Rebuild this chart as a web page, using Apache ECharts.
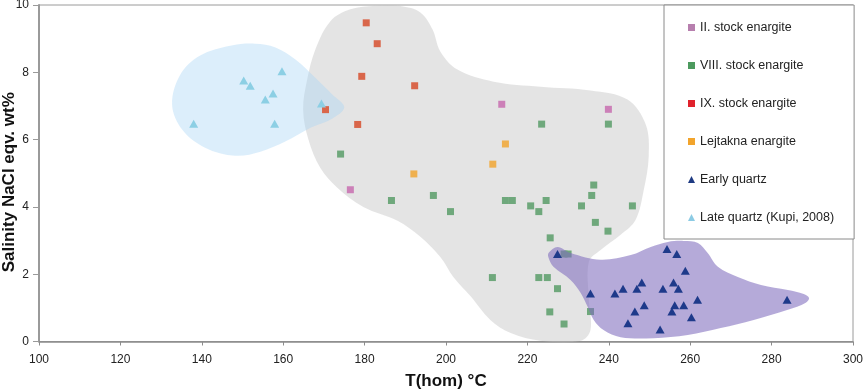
<!DOCTYPE html>
<html>
<head>
<meta charset="utf-8">
<script src="https://cdn.jsdelivr.net/npm/echarts@6/dist/echarts.min.js"></script>
<style>
html,body{margin:0;padding:0;background:#fff;}
#chart{width:865px;height:391px;}
</style>
</head>
<body>
<div id="chart"></div>
<script>
// ---- data (T(hom) °C, Salinity NaCl eqv. wt%) ----
const seriesNames = ['II. stock enargite','VIII. stock enargite','IX. stock enargite','Lejtakna enargite','Early quartz','Late quartz (Kupi, 2008)'];
const stockII = [[213.7,7.05],[239.9,6.90],[176.5,4.51]];
const stockVIII = [[174.1,5.57],[223.5,6.46],[239.9,6.46],[214.6,4.19],[216.3,4.19],[220.8,4.03],[222.8,3.86],[224.6,4.19],[236.3,4.65],[235.8,4.34],[233.3,4.03],[245.8,4.03],[236.7,3.54],[239.8,3.28],[186.6,4.19],[196.9,4.34],[201.1,3.86],[225.6,3.08],[211.4,1.90],[222.8,1.90],[224.9,1.90],[227.4,1.57],[225.5,0.88],[229.0,0.52],[235.5,0.89],[229.0,2.60],[230.0,2.60]];
const stockIX = [[180.4,9.47],[183.1,8.85],[179.3,7.88],[192.3,7.60],[178.3,6.45],[170.4,6.89]];
const lejtakna = [[214.6,5.87],[211.5,5.27],[192.1,4.98]];
const earlyQuartz = [[227.4,2.60],[235.5,1.43],[241.5,1.43],[243.5,1.57],[248.1,1.75],[246.9,1.57],[253.3,1.57],[255.9,1.75],[257.1,1.57],[254.3,2.75],[256.7,2.60],[258.8,2.10],[261.8,1.24],[258.4,1.08],[256.2,1.08],[255.5,0.89],[248.7,1.08],[246.4,0.89],[244.7,0.54],[252.6,0.36],[260.3,0.72],[283.8,1.24]];
const lateQuartz = [[138.0,6.47],[150.3,7.76],[151.9,7.60],[155.6,7.19],[157.5,7.37],[159.7,8.03],[157.9,6.47],[169.4,7.07]];

// field outlines (data coordinates)
const blueField = [[132.7,7.04],[134.7,7.93],[139.6,8.50],[147.0,8.79],[153.1,8.85],[158.1,8.74],[163.0,8.38],[167.9,7.84],[172.0,7.35],[175.0,6.96],[172.0,6.62],[166.7,6.35],[160.5,5.94],[154.4,5.64],[148.2,5.52],[140.8,5.76],[135.2,6.29]];
const greyField = [[164.9,6.89],[165.9,7.79],[167.9,8.68],[171.6,9.52],[176.5,9.87],[182.7,9.98],[188.8,9.97],[193.7,9.78],[196.7,9.27],[198.6,8.62],[202.8,8.08],[211.7,7.72],[223.2,7.57],[235.5,7.46],[244.6,7.19],[249.1,6.44],[249.8,5.49],[248.6,4.51],[246.6,3.62],[242.9,3.17],[238.0,2.72],[235.1,2.37],[235.1,1.24],[235.5,0.34],[233.1,0.02],[223.2,0.02],[215.9,0.25],[210.9,0.64],[206.0,1.35],[201.8,1.92],[198.6,2.51],[193.7,3.11],[188.1,3.59],[179.7,4.00],[173.3,4.57],[169.1,5.16],[166.2,6.00]];
const purpleField = [[225.2,2.63],[227.4,2.81],[230.6,2.63],[238.0,2.43],[245.4,2.57],[250.3,2.81],[254.5,2.96],[258.4,2.99],[261.9,2.93],[264.3,2.63],[266.8,2.22],[271.7,1.92],[277.4,1.68],[284.0,1.53],[287.9,1.41],[289.2,1.29],[288.4,1.15],[284.0,0.94],[275.6,0.64],[267.5,0.40],[259.4,0.19],[251.0,0.10],[242.9,0.13],[238.7,0.34],[236.3,0.64],[234.8,1.03],[233.1,1.44],[230.6,1.83],[226.4,2.22],[225.2,2.49]];

const FONT = 'Liberation Sans, Arial, sans-serif';

function field(name, pts, fill, z) {
  return {
    type: 'custom', name: name, data: pts, z: z, silent: true, clip: false,
    encode: {x: 0, y: 1},
    renderItem: function (params, api) {
      if (params.dataIndex !== 0) return null;
      const points = pts.map(function (p) { return api.coord(p); });
      return {type: 'polygon', shape: {points: points, smooth: 0.35}, style: {fill: fill}};
    }
  };
}
function pts(name, data, color, symbol, size, z) {
  return {type: 'scatter', name: name, data: data, symbol: symbol, symbolSize: size, z: z,
    itemStyle: {color: color, opacity: 1}, silent: true};
}

const chart = echarts.init(document.getElementById('chart'), null, {renderer: 'canvas'});
chart.setOption({
  animation: false,
  backgroundColor: '#fff',
  grid: {left: 39, right: 12, top: 5, bottom: 49.5, show: true, borderColor: '#9a9a9a', borderWidth: 1,
    backgroundColor: 'transparent', containLabel: false, outerBoundsMode: 'none'},
  xAxis: {
    type: 'value', min: 100, max: 300, interval: 20,
    name: 'T(hom) °C', nameLocation: 'middle', nameGap: 31, nameMoveOverlap: false,
    nameTextStyle: {fontFamily: FONT, fontWeight: 'bold', fontSize: 17, color: '#111'},
    axisLine: {lineStyle: {color: '#8c8c8c', width: 1.5}},
    axisTick: {show: true, length: 4, lineStyle: {color: '#8c8c8c'}},
    axisLabel: {fontFamily: FONT, fontSize: 12, color: '#222', margin: 12},
    splitLine: {show: false}
  },
  yAxis: {
    type: 'value', min: 0, max: 10, interval: 2,
    name: 'Salinity NaCl eqv. wt%', nameLocation: 'middle', nameGap: 21.5, nameMoveOverlap: false,
    nameTextStyle: {fontFamily: FONT, fontWeight: 'bold', fontSize: 17, color: '#111', padding: [0, 18, 0, 0]},
    axisLine: {show: true, lineStyle: {color: '#9a9a9a', width: 2}},
    axisTick: {show: true, length: 6, lineStyle: {color: '#9a9a9a'}},
    axisLabel: {fontFamily: FONT, fontSize: 12, color: '#222', margin: 10},
    splitLine: {show: false}
  },
  legend: {
    orient: 'vertical', left: 664, top: 5,
    padding: [16, 20, 15, 24],
    itemGap: 25, itemWidth: 7, itemHeight: 7,
    borderColor: '#8a8a8a', borderWidth: 1, backgroundColor: '#fff',
    selectedMode: false,
    textStyle: {fontFamily: FONT, fontSize: 12.5, color: '#222'},
    data: [
      {name: seriesNames[0], icon: 'rect', itemStyle: {color: '#b77fae'}},
      {name: seriesNames[1], icon: 'rect', itemStyle: {color: '#4c9a5e'}},
      {name: seriesNames[2], icon: 'rect', itemStyle: {color: '#e0222c'}},
      {name: seriesNames[3], icon: 'rect', itemStyle: {color: '#f2a42c'}},
      {name: seriesNames[4], icon: 'triangle', itemStyle: {color: '#1e3a82'}},
      {name: seriesNames[5], icon: 'triangle', itemStyle: {color: '#8ccbe4'}}
    ]
  },
  series: [
    field('greyField', greyField, 'rgba(190,190,190,0.42)', 1),
    field('blueField', blueField, 'rgba(168,212,245,0.40)', 2),
    pts(seriesNames[0], stockII, '#cc80b8', 'rect', 7, 3),
    pts(seriesNames[1], stockVIII, '#6fa87c', 'rect', 7, 3),
    pts(seriesNames[2], stockIX, '#d9664a', 'rect', 7, 3),
    pts(seriesNames[3], lejtakna, '#efb04f', 'rect', 7, 3),
    pts(seriesNames[5], lateQuartz, '#8ccfe4', 'triangle', [9, 8], 3),
    field('purpleField', purpleField, 'rgba(128,108,190,0.58)', 4),
    pts(seriesNames[4], earlyQuartz, '#1e3a8a', 'triangle', [9, 8], 5)
  ]
});
</script>
</body>
</html>
